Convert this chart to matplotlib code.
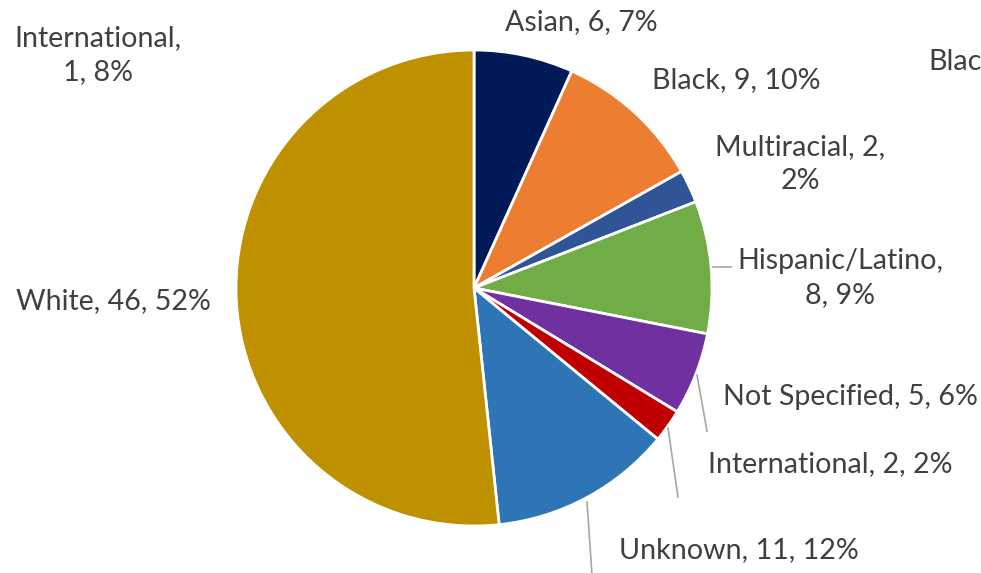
import matplotlib.pyplot as plt

# Ripartizione per etnia (conteggi)
categorie = ['Asian', 'Black', 'Multiracial', 'Hispanic/Latino',
             'Not Specified', 'International', 'Unknown', 'White']
valori = [6, 9, 2, 8, 5, 2, 11, 46]
colori = ['#001957', '#ED7D31', '#2F5597', '#70AD47',
          '#7030A0', '#C00000', '#2E75B6', '#BF9000']
# dove va a capo l'etichetta: None, 'name' (dopo il nome), 'count' (dopo il conteggio)
a_capo = [None, None, 'count', 'name', None, None, None, None]

# posizione del centro delle etichette (pixel, origine in alto a sinistra)
pos_etichette = [(581, 22), (736, 80), (800, 164), (840, 278),
                 (850, 397), (830, 464), (739, 550), (113, 301)]

# linee guida (pixel)
linee_guida = [((713, 267), (731, 267)),
               ((697, 375), (707, 431)),
               ((668, 428), (678, 497)),
               ((587, 502), (592, 575))]

W, H = 981, 573
TESTO = '#404040'
FONT = ['Lato', 'DejaVu Sans']
FS = 20.6
LS = 1.42

fig = plt.figure(figsize=(W / 100, H / 100), dpi=100)
ax = fig.add_axes([0, 0, 1, 1])
ax.set_xlim(0, W)
ax.set_ylim(0, H)
ax.set_aspect('equal')
ax.axis('off')

ax.pie(valori, colors=colori, startangle=90, counterclock=False,
       center=(474, H - 288), radius=238,
       wedgeprops={'edgecolor': 'white', 'linewidth': 2})
ax.set_xlim(0, W)
ax.set_ylim(0, H)

totale = sum(valori)
for nome, v, br, (x, y) in zip(categorie, valori, a_capo, pos_etichette):
    pct = round(100 * v / totale)
    if br == 'name':
        txt = f'{nome},\n{v}, {pct}%'
    elif br == 'count':
        txt = f'{nome}, {v},\n{pct}%'
    else:
        txt = f'{nome}, {v}, {pct}%'
    ax.text(x, H - y, txt, ha='center', va='center', fontsize=FS,
            color=TESTO, family=FONT, linespacing=LS)

for (x0, y0), (x1, y1) in linee_guida:
    ax.plot([x0, x1], [H - y0, H - y1], color='#A6A6A6', linewidth=1.2,
            clip_on=False)

# testi residui di un altro grafico sovrapposto
ax.text(98, H - 55, 'International,\n1, 8%', ha='center', va='center',
        fontsize=FS, color=TESTO, family=FONT, linespacing=LS)
ax.text(928, H - 62, 'Blac', ha='left', va='center',
        fontsize=FS, color=TESTO, family=FONT)

fig.savefig('out.png', dpi=100)
